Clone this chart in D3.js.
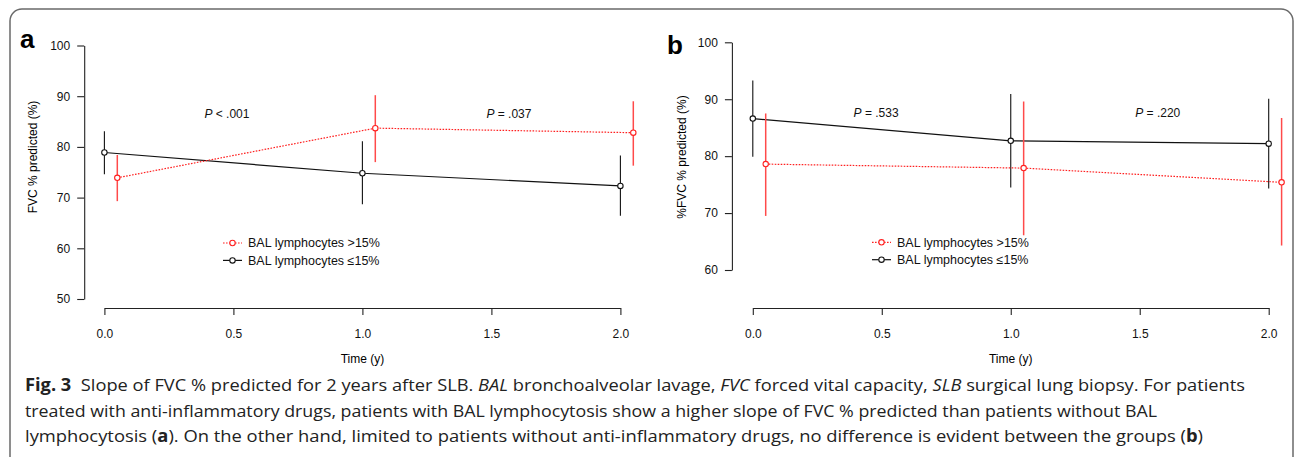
<!DOCTYPE html>
<html>
<head>
<meta charset="utf-8">
<script src="https://cdn.jsdelivr.net/npm/d3@7"></script>
<style>
  body { margin: 0; background: #fff; }
  svg { display: block; }
</style>
</head>
<body>
<script>
// Fig. 3 - slope of FVC % predicted, two panels (a, b)

// datos
var times = [0, 1, 2];
var offsetHigh = 0.05;          // red series drawn slightly to the right
var xTicks = [0, 0.5, 1, 1.5, 2];

// panel a
var aTicksY = [50, 60, 70, 80, 90, 100];
var aHighMean = [73.9, 83.7, 82.8];
var aHighLo   = [69.3, 77.0, 76.3];
var aHighHi   = [78.4, 90.2, 89.0];
var aLowMean  = [78.9, 74.8, 72.3];
var aLowLo    = [74.6, 68.7, 66.4];
var aLowHi    = [83.1, 81.1, 78.3];
var aPLabels  = ['< .001', '= .037'];

// panel b
var bTicksY = [60, 70, 80, 90, 100];
var bHighMean = [78.6, 77.9, 75.4];
var bHighLo   = [69.5, 66.1, 64.3];
var bHighHi   = [87.5, 89.6, 86.7];
var bLowMean  = [86.6, 82.7, 82.2];
var bLowLo    = [79.9, 74.5, 74.3];
var bLowHi    = [93.3, 90.9, 90.1];
var bPLabels  = ['= .533', '= .220'];

var legendLabels = ['BAL lymphocytes >15%', 'BAL lymphocytes \u226415%'];

var WIDTH = 1295;
var HEIGHT = 457;
var RED = '#ff2020';
var BLACK = '#111';
var FONT = '"Liberation Sans", Arial, sans-serif';

var svg = d3.select('body')
  .append('svg')
  .attr('width', WIDTH)
  .attr('height', HEIGHT);

// marco redondeado
svg.append('rect')
  .attr('x', 10).attr('y', 9)
  .attr('width', 1283).attr('height', 480)
  .attr('rx', 12).attr('ry', 12)
  .attr('fill', 'none')
  .attr('stroke', '#6a6a6a')
  .attr('stroke-width', 1.5);

function seriesRows(mean, lo, hi, shift) {
  return times.map(function(t, i) {
    return { t: t + shift, m: mean[i], lo: lo[i], hi: hi[i] };
  });
}

function drawPanel(p) {
  var g = svg.append('g');
  var x = d3.scaleLinear().domain([0, 2]).range(p.xRange);
  var y = d3.scaleLinear().domain([p.ticksY[0], 100]).range(p.yRange);

  // ejes
  var yAxis = g.append('g')
    .attr('transform', 'translate(' + p.axisX + ',0)')
    .call(d3.axisLeft(y).tickValues(p.ticksY).tickSize(7).tickSizeOuter(0).tickPadding(7)
      .tickFormat(d3.format('d')));
  var xAxis = g.append('g')
    .attr('transform', 'translate(0,' + p.axisY + ')')
    .call(d3.axisBottom(x).tickValues(xTicks).tickSize(7).tickSizeOuter(0).tickPadding(14)
      .tickFormat(d3.format('.1f')));
  [yAxis, xAxis].forEach(function(ax) {
    ax.attr('font-family', FONT).attr('font-size', 12);
    ax.selectAll('path, line').attr('stroke', '#222').attr('stroke-width', 1.1);
    ax.selectAll('text').attr('fill', '#111');
  });

  g.append('text')
    .attr('x', (p.xRange[0] + p.xRange[1]) / 2)
    .attr('y', 363)
    .attr('text-anchor', 'middle')
    .attr('font-family', FONT).attr('font-size', 12)
    .text('Time (y)');

  g.append('text')
    .attr('transform', 'translate(' + p.titleX + ',157) rotate(-90)')
    .attr('text-anchor', 'middle')
    .attr('font-family', FONT).attr('font-size', 12)
    .text(p.yTitle);

  g.append('text')
    .attr('x', p.letterX).attr('y', p.letterY)
    .attr('font-family', FONT).attr('font-weight', 'bold').attr('font-size', 26)
    .text(p.letter);

  // series
  var series = [
    { rows: seriesRows(p.low.mean, p.low.lo, p.low.hi, 0), color: BLACK, dash: null, barColor: BLACK, barW: 1.1 },
    { rows: seriesRows(p.high.mean, p.high.lo, p.high.hi, offsetHigh), color: RED, dash: '1.6,1.4', barColor: '#ff4a4a', barW: 1.5 }
  ];

  var line = d3.line()
    .x(function(d) { return x(d.t); })
    .y(function(d) { return y(d.m); });

  series.forEach(function(s) {
    g.selectAll(null)
      .data(s.rows)
      .enter()
      .append('line')
      .attr('x1', function(d) { return x(d.t); })
      .attr('x2', function(d) { return x(d.t); })
      .attr('y1', function(d) { return y(d.lo); })
      .attr('y2', function(d) { return y(d.hi); })
      .attr('stroke', s.barColor)
      .attr('stroke-width', s.barW);

    g.append('path')
      .datum(s.rows)
      .attr('d', line)
      .attr('fill', 'none')
      .attr('stroke', s.color)
      .attr('stroke-width', 1.2)
      .attr('stroke-dasharray', s.dash);

    g.selectAll(null)
      .data(s.rows)
      .enter()
      .append('circle')
      .attr('cx', function(d) { return x(d.t); })
      .attr('cy', function(d) { return y(d.m); })
      .attr('r', 2.7)
      .attr('fill', '#fff')
      .attr('stroke', s.color)
      .attr('stroke-width', 1.1);
  });

  // valores P
  p.pLabels.forEach(function(lab, i) {
    var t = g.append('text')
      .attr('x', x(p.pPos[i][0]))
      .attr('y', y(p.pPos[i][1]) + 4)
      .attr('text-anchor', 'middle')
      .attr('font-family', FONT).attr('font-size', 12)
      .attr('fill', '#111');
    t.append('tspan').attr('font-style', 'italic').text('P');
    t.append('tspan').text(' ' + lab);
  });

  // leyenda
  var leg = [
    { label: legendLabels[0], color: RED, dash: '1.6,1.4' },
    { label: legendLabels[1], color: BLACK, dash: null }
  ];
  leg.forEach(function(l, i) {
    var ly = p.legY + i * 17.4;
    g.append('line')
      .attr('x1', p.legX).attr('x2', p.legX + 19)
      .attr('y1', ly).attr('y2', ly)
      .attr('stroke', l.color).attr('stroke-width', 1.2)
      .attr('stroke-dasharray', l.dash);
    g.append('circle')
      .attr('cx', p.legX + 9.5).attr('cy', ly).attr('r', 2.7)
      .attr('fill', '#fff').attr('stroke', l.color).attr('stroke-width', 1.1);
    g.append('text')
      .attr('x', p.legX + 25).attr('y', ly + 4.3)
      .attr('font-family', FONT).attr('font-size', 12.5)
      .attr('fill', '#111')
      .text(l.label);
  });
}

drawPanel({
  letter: 'a', letterX: 20, letterY: 47.5,
  xRange: [104.4, 620.4], yRange: [299, 45.5],
  axisX: 84.2, axisY: 308, titleX: 37,
  ticksY: aTicksY, yTitle: 'FVC % predicted (%)',
  high: { mean: aHighMean, lo: aHighLo, hi: aHighHi },
  low: { mean: aLowMean, lo: aLowLo, hi: aLowHi },
  pLabels: aPLabels, pPos: [[0.475, 86.5], [1.568, 86.5]],
  legX: 223, legY: 243
});

drawPanel({
  letter: 'b', letterX: 667, letterY: 54,
  xRange: [752.8, 1268.7], yRange: [270, 42.3],
  axisX: 731.9, axisY: 308, titleX: 686,
  ticksY: bTicksY, yTitle: '%FVC % predicted (%)',
  high: { mean: bHighMean, lo: bHighLo, hi: bHighHi },
  low: { mean: bLowMean, lo: bLowLo, hi: bLowHi },
  pLabels: bPLabels, pPos: [[0.478, 87.5], [1.57, 87.5]],
  legX: 872, legY: 242.3
});

// pie de figura
var CAP_FONT = '"Open Sans", "Noto Sans", sans-serif';
var captionLines = [
  { y: 391, width: 1220, runs: [
    ['b', 'Fig. 3'], ['n', '\u00a0 Slope of FVC % predicted for 2 years after SLB. '], ['i', 'BAL'],
    ['n', ' bronchoalveolar lavage, '], ['i', 'FVC'], ['n', ' forced vital capacity, '], ['i', 'SLB'],
    ['n', ' surgical lung biopsy. For patients']] },
  { y: 416.5, width: 1132, runs: [
    ['n', 'treated with anti-inflammatory drugs, patients with BAL lymphocytosis show a higher slope of FVC % predicted than patients without BAL']] },
  { y: 442, width: 1178, runs: [
    ['n', 'lymphocytosis ('], ['b', 'a'],
    ['n', '). On the other hand, limited to patients without anti-inflammatory drugs, no difference is evident between the groups ('],
    ['b', 'b'], ['n', ')']] }
];

captionLines.forEach(function(ln) {
  var t = svg.append('text')
    .attr('x', 25).attr('y', ln.y)
    .attr('font-family', CAP_FONT).attr('font-size', 17)
    .attr('fill', '#222')
    .attr('textLength', ln.width)
    .attr('lengthAdjust', 'spacingAndGlyphs')
    .style('white-space', 'pre');
  ln.runs.forEach(function(r) {
    t.append('tspan')
      .attr('font-weight', r[0] === 'b' ? 'bold' : null)
      .attr('font-style', r[0] === 'i' ? 'italic' : null)
      .text(r[1]);
  });
});
</script>
</body>
</html>
